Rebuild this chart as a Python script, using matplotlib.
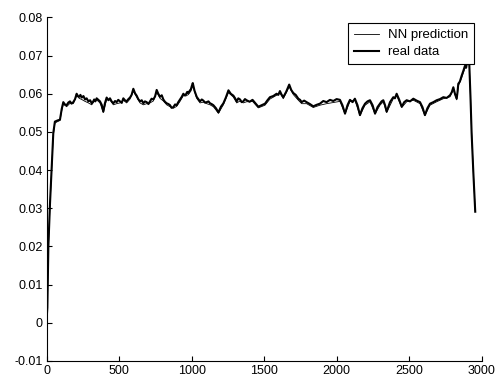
import matplotlib
matplotlib.use('Agg')
import matplotlib.pyplot as plt
from matplotlib.ticker import FuncFormatter

plt.rcParams['font.family'] = ['Liberation Sans', 'DejaVu Sans']

# real data
t_real = [0, 5, 12, 23, 34, 46, 57, 75, 92, 104,
          115, 126, 138, 150, 161, 172, 184, 196, 207, 216, 225, 233, 242, 254, 265, 276,
          288, 300, 311, 320, 328, 336, 345, 356, 368, 380, 391, 402, 414, 426, 437, 448,
          460, 472, 483, 494, 506, 518, 529, 540, 552, 564, 575, 586, 598, 610, 621, 632,
          644, 656, 667, 678, 690, 702, 713, 724, 736, 748, 759, 770, 782, 794, 805, 816,
          828, 840, 851, 862, 874, 886, 897, 908, 920, 932, 943, 952, 960, 970, 978, 987,
          995, 1001, 1008, 1020, 1035, 1046, 1058, 1070, 1081, 1092, 1104, 1116, 1127, 1138,
          1150, 1168, 1185, 1202, 1219, 1236, 1254, 1270, 1288, 1300, 1311, 1322, 1334, 1345,
          1356, 1368, 1379, 1400, 1420, 1440, 1460, 1483, 1506, 1523, 1540, 1563, 1586, 1598,
          1609, 1620, 1632, 1652, 1673, 1687, 1701, 1718, 1736, 1748, 1759, 1776, 1793, 1816,
          1839, 1862, 1885, 1908, 1931, 1954, 1977, 2000, 2023, 2040, 2058, 2075, 2092, 2110,
          2126, 2144, 2161, 2178, 2196, 2213, 2230, 2248, 2265, 2282, 2299, 2310, 2322, 2334,
          2345, 2368, 2391, 2402, 2414, 2432, 2449, 2466, 2483, 2506, 2529, 2552, 2575, 2592,
          2609, 2626, 2644, 2667, 2690, 2713, 2736, 2759, 2782, 2794, 2805, 2816, 2828, 2834,
          2839, 2850, 2862, 2874, 2885, 2893, 2901, 2908, 2915, 2924, 2931, 2943, 2956]
real = [0.0010, 0.0040, 0.0200, 0.0310, 0.0400, 0.0497, 0.0527, 0.0530, 0.0532, 0.0560,
        0.0578, 0.0572, 0.0570, 0.0577, 0.0580, 0.0574, 0.0578, 0.0586, 0.0600, 0.0594,
        0.0592, 0.0597, 0.0590, 0.0594, 0.0585, 0.0588, 0.0580, 0.0583, 0.0575, 0.0579,
        0.0585, 0.0580, 0.0588, 0.0584, 0.0580, 0.0571, 0.0553, 0.0575, 0.0590, 0.0583,
        0.0588, 0.0580, 0.0575, 0.0581, 0.0578, 0.0584, 0.0580, 0.0576, 0.0588, 0.0583,
        0.0580, 0.0586, 0.0590, 0.0597, 0.0613, 0.0601, 0.0595, 0.0586, 0.0580, 0.0583,
        0.0575, 0.0580, 0.0578, 0.0573, 0.0580, 0.0587, 0.0585, 0.0593, 0.0610, 0.0600,
        0.0592, 0.0596, 0.0585, 0.0579, 0.0575, 0.0573, 0.0570, 0.0563, 0.0565, 0.0572,
        0.0570, 0.0578, 0.0585, 0.0592, 0.0600, 0.0596, 0.0598, 0.0605, 0.0602, 0.0608,
        0.0612, 0.0620, 0.0628, 0.0608, 0.0592, 0.0586, 0.0580, 0.0585, 0.0582, 0.0577,
        0.0578, 0.0580, 0.0575, 0.0573, 0.0570, 0.0562, 0.0551, 0.0566, 0.0575, 0.0590,
        0.0609, 0.0600, 0.0595, 0.0588, 0.0580, 0.0588, 0.0585, 0.0578, 0.0580, 0.0586,
        0.0583, 0.0579, 0.0584, 0.0575, 0.0566, 0.0570, 0.0574, 0.0583, 0.0591, 0.0594,
        0.0600, 0.0597, 0.0607, 0.0598, 0.0591, 0.0605, 0.0624, 0.0610, 0.0602, 0.0597,
        0.0587, 0.0584, 0.0578, 0.0582, 0.0578, 0.0573, 0.0567, 0.0571, 0.0574, 0.0581,
        0.0578, 0.0584, 0.0581, 0.0586, 0.0584, 0.0570, 0.0548, 0.0570, 0.0584, 0.0578,
        0.0587, 0.0570, 0.0544, 0.0562, 0.0574, 0.0580, 0.0583, 0.0570, 0.0548, 0.0565,
        0.0574, 0.0580, 0.0583, 0.0570, 0.0553, 0.0578, 0.0591, 0.0588, 0.0600, 0.0584,
        0.0566, 0.0578, 0.0583, 0.0580, 0.0587, 0.0582, 0.0578, 0.0565, 0.0544, 0.0562,
        0.0574, 0.0578, 0.0583, 0.0586, 0.0591, 0.0589, 0.0596, 0.0604, 0.0617, 0.0600,
        0.0587, 0.0605, 0.0626, 0.0632, 0.0647, 0.0660, 0.0673, 0.0668, 0.0685, 0.0690,
        0.0678, 0.0583, 0.0497, 0.0393, 0.0291]

# NN prediction, coarser reading (thin line that sits just under the real data)
t_pred = [0, 5, 12, 23, 34, 46, 57, 75, 92, 104, 115, 138, 161, 184, 207, 225, 242, 265, 288,
          311, 328, 345, 368, 391, 414, 437, 460, 483, 506, 529, 552, 575, 598, 621, 644, 667,
          690, 713, 736, 759, 782, 805, 828, 851, 874, 897, 920, 943, 960, 978, 995, 1008, 1035,
          1058, 1081, 1104, 1127, 1150, 1185, 1219, 1254, 1288, 1311, 1334, 1356, 1379, 1420,
          1460, 1506, 1540, 1586, 1609, 1632, 1673, 1701, 1736, 1759, 1793, 1839, 1885, 1931,
          1977, 2023, 2058, 2092, 2126, 2161, 2196, 2230, 2265, 2299, 2322, 2345, 2391, 2414,
          2449, 2483, 2529, 2575, 2609, 2644, 2690, 2736, 2782, 2805, 2828, 2839, 2862, 2885,
          2901, 2915, 2924, 2931, 2943, 2956]
pred = [0.0010, 0.0045, 0.0195, 0.0305, 0.0395, 0.0490, 0.0523, 0.0527, 0.0530, 0.0555,
        0.0573, 0.0566, 0.0575, 0.0574, 0.0595, 0.0588, 0.0585, 0.0580, 0.0576, 0.0571,
        0.0580, 0.0584, 0.0576, 0.0551, 0.0585, 0.0584, 0.0571, 0.0574, 0.0576, 0.0583,
        0.0576, 0.0586, 0.0607, 0.0591, 0.0576, 0.0571, 0.0574, 0.0576, 0.0581, 0.0604,
        0.0588, 0.0581, 0.0571, 0.0566, 0.0562, 0.0567, 0.0580, 0.0595, 0.0594, 0.0598,
        0.0607, 0.0621, 0.0588, 0.0576, 0.0578, 0.0574, 0.0571, 0.0566, 0.0549, 0.0571,
        0.0603, 0.0591, 0.0576, 0.0581, 0.0576, 0.0579, 0.0580, 0.0563, 0.0570, 0.0586,
        0.0596, 0.0602, 0.0587, 0.0618, 0.0598, 0.0583, 0.0574, 0.0574, 0.0564, 0.0570,
        0.0574, 0.0577, 0.0580, 0.0547, 0.0580, 0.0583, 0.0543, 0.0570, 0.0579, 0.0547,
        0.0570, 0.0579, 0.0551, 0.0587, 0.0595, 0.0564, 0.0579, 0.0583, 0.0574, 0.0543,
        0.0570, 0.0579, 0.0587, 0.0592, 0.0611, 0.0584, 0.0620, 0.0641, 0.0667, 0.0680,
        0.0676, 0.0585, 0.0500, 0.0395, 0.0293]

fig = plt.figure(figsize=(4.96, 3.78), dpi=100)
ax = fig.add_axes([0.094, 0.045, 0.877, 0.909])
ax.plot(t_pred, pred, color='k', lw=0.6, label='NN prediction')
ax.plot(t_real, real, color='k', lw=1.5, label='real data')

ax.set_xlim(0, 3000)
ax.set_ylim(-0.01, 0.08)
ax.set_xticks(range(0, 3001, 500))
ax.set_yticks([i / 100 for i in range(-1, 9)])
ax.yaxis.set_major_formatter(FuncFormatter(lambda v, p: '%g' % round(v, 4)))
ax.tick_params(direction='in', length=3.5, width=0.8, labelsize=9, pad=3)
for s in ['top', 'right']:
    ax.spines[s].set_visible(False)
for s in ['left', 'bottom']:
    ax.spines[s].set_linewidth(0.8)

leg = ax.legend(loc='upper right', bbox_to_anchor=(0.983, 0.983), borderaxespad=0,
                fontsize=9.5, fancybox=False, framealpha=1, edgecolor='k',
                handlelength=1.9, handletextpad=0.7, borderpad=0.45, labelspacing=0.35)
leg.get_frame().set_linewidth(0.8)

fig.savefig('out.png', dpi=100)
